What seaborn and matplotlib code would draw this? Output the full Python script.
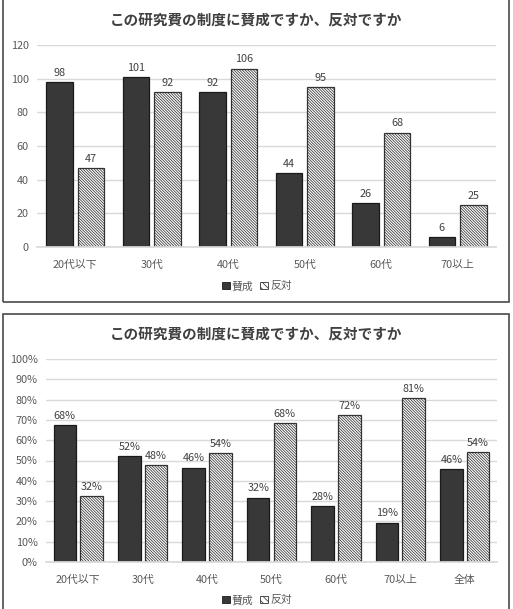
import matplotlib
matplotlib.use("Agg")
import matplotlib.pyplot as plt
from matplotlib.patches import Patch, Rectangle
from matplotlib.ticker import PercentFormatter
import pandas as pd
import seaborn as sns

# --- data ---
title = "この研究費の制度に賛成ですか、反対ですか"
answers = ["賛成", "反対"]

age_groups = ["20代以下", "30代", "40代", "50代", "60代", "70以上"]
counts_yes = [98, 101, 92, 44, 26, 6]
counts_no = [47, 92, 106, 95, 68, 25]

share_groups = ["20代以下", "30代", "40代", "50代", "60代", "70以上", "全体"]
share_yes = [0.676, 0.523, 0.465, 0.317, 0.277, 0.194, 0.459]
share_no = [0.324, 0.477, 0.535, 0.683, 0.723, 0.806, 0.541]

DARK = "#383838"
TEXT = "#595959"
GRID = "#d9d9d9"
HATCH = "\\" * 12

sns.set_theme(style="white")
plt.rcParams["font.family"] = ["Noto Sans CJK JP", "DejaVu Sans"]
plt.rcParams["hatch.linewidth"] = 0.55


def long_frame(groups, yes, no):
    return pd.DataFrame({
        "group": groups * 2,
        "answer": [answers[0]] * len(groups) + [answers[1]] * len(groups),
        "value": list(yes) + list(no),
    })


def draw_panel(ax, df, label_fmt):
    sns.barplot(data=df, x="group", y="value", hue="answer",
                hue_order=answers, palette=[DARK, "white"],
                width=0.83, gap=0.16, edgecolor="#1a1a1a", linewidth=0.9,
                legend=False, ax=ax)
    for patch in ax.containers[1]:
        patch.set_hatch(HATCH)
        patch.set_edgecolor("#333333")
    for cont in ax.containers:
        ax.bar_label(cont, labels=[label_fmt(b.get_height()) for b in cont],
                     padding=3, fontsize=7.8, color="#404040")
    ax.set_xlabel("")
    ax.set_ylabel("")
    ax.grid(axis="y", color=GRID, linewidth=1)
    ax.set_axisbelow(True)
    for side in ["top", "right", "left"]:
        ax.spines[side].set_visible(False)
    ax.spines["bottom"].set_color(GRID)
    ax.tick_params(axis="both", length=0, labelsize=7.8, labelcolor=TEXT, pad=6)
    ax.tick_params(axis="x", pad=9)


fig = plt.figure(figsize=(5.13, 6.09), dpi=100)

# top panel: counts
ax1 = fig.add_axes([37 / 513, 1 - 247 / 609, 459 / 513, 202 / 609])
draw_panel(ax1, long_frame(age_groups, counts_yes, counts_no),
           lambda v: f"{v:.0f}")
ax1.set_ylim(0, 120)
ax1.set_yticks(range(0, 121, 20))
ax1.set_xlim(-0.5, len(age_groups) - 0.5)

# bottom panel: shares
ax2 = fig.add_axes([46 / 513, 1 - 562 / 609, 451 / 513, 203 / 609])
draw_panel(ax2, long_frame(share_groups, share_yes, share_no),
           lambda v: f"{v * 100:.0f}%")
ax2.set_ylim(0, 1)
ax2.set_yticks([i / 10 for i in range(11)])
ax2.yaxis.set_major_formatter(PercentFormatter(1.0, decimals=0))
ax2.set_xlim(-0.5, len(share_groups) - 0.5)

handles = [Patch(facecolor=DARK, edgecolor="#1a1a1a", linewidth=0.6),
           Patch(facecolor="white", edgecolor="#333333", hatch="\\" * 5,
                 linewidth=0.6)]
for ytop in (286, 600):
    fig.legend(handles, answers, loc="center", ncol=2,
               bbox_to_anchor=(257 / 513, 1 - ytop / 609), frameon=False,
               fontsize=7.8, labelcolor=TEXT, handlelength=0.7,
               handleheight=0.7, handletextpad=0.2, columnspacing=0.6)

for ytitle in (20, 334):
    fig.text(256 / 513, 1 - ytitle / 609, title, ha="center", va="center",
             fontsize=10.5, fontweight="bold", color="#404040")

# panel frames
fig.patches.append(Rectangle((2.5 / 513, 1 - 302 / 609), 506 / 513, 310 / 609,
                             transform=fig.transFigure, fill=False,
                             edgecolor="#4a4a4a", linewidth=1.2))
fig.patches.append(Rectangle((2.5 / 513, -0.02), 506.5 / 513, 1 - 314 / 609 + 0.02,
                             transform=fig.transFigure, fill=False,
                             edgecolor="#4a4a4a", linewidth=1.2))

fig.savefig("out.png", dpi=100, facecolor="white")
